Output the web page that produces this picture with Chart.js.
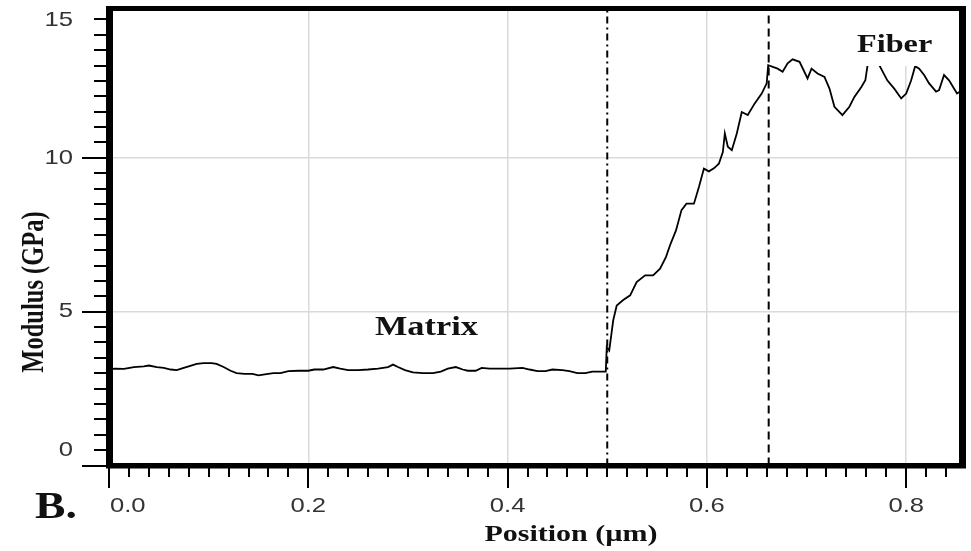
<!DOCTYPE html>
<html><head><meta charset="utf-8">
<script src="https://cdn.jsdelivr.net/npm/chart.js@4"></script>
<style>html,body{margin:0;padding:0;background:#fff}#wrap{width:971px;height:551px;position:relative}</style>
</head><body><div id="wrap"><canvas id="c"></canvas></div>
<script>
// ---- data ----
const positions = [0.000,0.006,0.015,0.025,0.035,0.040,0.048,0.055,0.062,0.068,0.075,0.080,0.088,0.095,0.103,0.108,0.115,0.122,0.128,0.136,0.144,0.150,0.158,0.165,0.172,0.180,0.190,0.200,0.206,0.215,0.225,0.232,0.240,0.250,0.260,0.270,0.280,0.285,0.290,0.297,0.305,0.315,0.325,0.333,0.340,0.348,0.355,0.360,0.368,0.374,0.382,0.392,0.402,0.415,0.422,0.430,0.438,0.445,0.455,0.462,0.470,0.478,0.485,0.4985,0.4995,0.502,0.506,0.5095,0.516,0.523,0.5295,0.538,0.546,0.553,0.559,0.563,0.569,0.5745,0.5795,0.587,0.592,0.597,0.602,0.607,0.612,0.616,0.618,0.621,0.625,0.630,0.635,0.641,0.648,0.655,0.660,0.6615,0.671,0.676,0.681,0.686,0.693,0.701,0.705,0.711,0.718,0.723,0.728,0.736,0.743,0.748,0.755,0.759,0.761,0.766,0.770,0.773,0.781,0.788,0.795,0.800,0.805,0.809,0.813,0.818,0.823,0.830,0.833,0.838,0.843,0.846,0.851,0.856];
const modulus = [3.12,3.15,3.14,3.20,3.22,3.25,3.20,3.17,3.12,3.10,3.17,3.22,3.30,3.33,3.33,3.30,3.20,3.08,3.00,2.98,2.98,2.93,2.97,3.00,3.00,3.07,3.08,3.08,3.12,3.12,3.20,3.15,3.10,3.10,3.12,3.15,3.20,3.28,3.20,3.10,3.03,3.00,3.00,3.05,3.15,3.20,3.12,3.08,3.08,3.17,3.15,3.15,3.15,3.17,3.12,3.07,3.07,3.12,3.10,3.07,3.00,3.00,3.05,3.05,3.85,3.74,4.72,5.20,5.38,5.53,5.96,6.18,6.18,6.40,6.78,7.16,7.64,8.30,8.51,8.51,9.05,9.65,9.56,9.66,9.81,10.19,10.79,10.36,10.25,10.79,11.49,11.39,11.77,12.09,12.42,13.01,12.90,12.80,13.07,13.20,13.12,12.58,12.90,12.74,12.63,12.25,11.66,11.39,11.66,11.98,12.30,12.52,12.96,13.50,13.45,13.01,12.52,12.25,11.93,12.09,12.52,12.98,12.90,12.69,12.42,12.15,12.20,12.69,12.52,12.36,12.09,12.20];
const boundaries = [0.5, 0.662];
const xTickValues = [0, 0.2, 0.4, 0.6, 0.8];
const xTickLabels = ['0.0', '0.2', '0.4', '0.6', '0.8'];
const yTickValues = [0, 5, 10, 15];
const yTickLabels = ['0', '5', '10', '15'];
const xTitle = 'Position (\u00b5m)';
const yTitle = 'Modulus (GPa)';
const matrixLabel = 'Matrix';
const fiberLabel = 'Fiber';
const panelLabel = 'B.';
const xMax = 0.856, yMax = 14.87;

function sText(ctx, txt, x, y, size, family, weight, sx, align, baseline, color) {
  ctx.save();
  ctx.translate(x, y);
  ctx.scale(sx, 1);
  ctx.font = weight + ' ' + size + 'px ' + family;
  ctx.textAlign = align;
  ctx.textBaseline = baseline;
  ctx.fillStyle = color;
  ctx.fillText(txt, 0, 0);
  ctx.restore();
}

const decor = {
  id: 'decor',
  beforeDraw(chart) {
    const ctx = chart.ctx;
    ctx.save(); ctx.fillStyle = '#fff'; ctx.fillRect(0, 0, chart.width, chart.height); ctx.restore();
  },
  afterDatasetsDraw(chart) {
    const ctx = chart.ctx, a = chart.chartArea;
    const xs = chart.scales.x, ys = chart.scales.y;
    const serif = '"Liberation Serif", "Times New Roman", serif';
    const sans = '"Liberation Sans", Arial, sans-serif';
    ctx.save();
    // white backing behind Fiber label
    ctx.fillStyle = '#fff';
    ctx.fillRect(850, 11, 90, 55);
    // region labels
    sText(ctx, matrixLabel, 375, 335, 27, serif, 'bold', 1.27, 'left', 'alphabetic', '#111');
    sText(ctx, fiberLabel, 857, 52, 26, serif, 'bold', 1.24, 'left', 'alphabetic', '#111');
    // frame
    ctx.fillStyle = '#000';
    ctx.fillRect(106, 6, 860, 5);
    ctx.fillRect(106, 6, 7, 462);
    ctx.fillRect(959, 6, 7, 462);
    ctx.fillRect(106, 463, 860, 5.5);
    // y ticks
    for (let i = 0; i * 0.5 <= yMax; i++) {
      const py = Math.round(ys.getPixelForValue(i * 0.5));
      const major = i % 10 === 0;
      ctx.fillRect(major ? 82 : 94, py - 1, major ? 25 : 13, 2);
    }
    // x ticks
    for (let i = 0; i * 0.02 <= xMax; i++) {
      const px = Math.round(xs.getPixelForValue(i * 0.02));
      const major = i % 10 === 0;
      ctx.fillRect(px - 1, 468, 2, major ? 20 : 9);
    }
    // tick labels
    ctx.font = '21px ' + sans;
    const tsx = 1.22;
    xTickValues.forEach((v, i) => {
      const w = ctx.measureText(xTickLabels[i]).width * tsx;
      let cx = xs.getPixelForValue(v);
      if (cx - w / 2 < a.left + 1) cx = a.left + 1 + w / 2;
      sText(ctx, xTickLabels[i], cx, 506, 21, sans, 'normal', tsx, 'center', 'middle', '#333');
    });
    yTickValues.forEach((v, i) => {
      let py = ys.getPixelForValue(v);
      py = Math.max(a.top + 12, Math.min(a.bottom - 15.5, py));
      sText(ctx, yTickLabels[i], 73, py, 21, sans, 'normal', tsx, 'right', 'middle', '#333');
    });
    // axis titles
    sText(ctx, xTitle, 571, 541, 24, serif, 'bold', 1.25, 'center', 'alphabetic', '#111');
    ctx.save();
    ctx.translate(43, 292);
    ctx.scale(1.27, 1);
    ctx.rotate(-Math.PI / 2);
    ctx.font = 'bold 24.5px ' + serif;
    ctx.textAlign = 'center';
    ctx.textBaseline = 'alphabetic';
    ctx.fillStyle = '#111';
    ctx.fillText(yTitle, 0, 0);
    ctx.restore();
    // panel label
    sText(ctx, panelLabel, 35, 518, 38, serif, 'bold', 1.2, 'left', 'alphabetic', '#111');
    ctx.restore();
  }
};

const gridStyle = { color: '#dadada', lineWidth: 1.5, drawTicks: false };
new Chart(document.getElementById('c'), {
  type: 'scatter',
  data: {
    datasets: [
      {
        data: positions.map((x, i) => ({ x: x, y: modulus[i] })),
        showLine: true, borderColor: '#000', borderWidth: 1.8, pointRadius: 0, tension: 0, fill: false
      },
      {
        data: [{ x: boundaries[0], y: 0 }, { x: boundaries[0], y: yMax }],
        showLine: true, borderColor: '#000', borderWidth: 2, borderDash: [7, 4, 2, 4], pointRadius: 0
      },
      {
        data: [{ x: boundaries[1], y: 0 }, { x: boundaries[1], y: yMax }],
        showLine: true, borderColor: '#000', borderWidth: 2, borderDash: [8, 5], pointRadius: 0
      }
    ]
  },
  options: {
    responsive: true, maintainAspectRatio: false, animation: false,
    layout: { padding: { top: 8, right: 9, left: 0, bottom: 0 } },
    plugins: { legend: { display: false }, tooltip: { enabled: false } },
    scales: {
      x: { type: 'linear', min: 0, max: xMax, ticks: { display: false, stepSize: 0.2 }, grid: gridStyle, border: { display: false },
           afterFit(s) { s.height = 85.5; } },
      y: { type: 'linear', min: 0, max: yMax, ticks: { display: false, stepSize: 5 }, grid: gridStyle, border: { display: false },
           afterFit(s) { s.width = 109; } }
    }
  },
  plugins: [decor]
});
</script>
</body></html>
